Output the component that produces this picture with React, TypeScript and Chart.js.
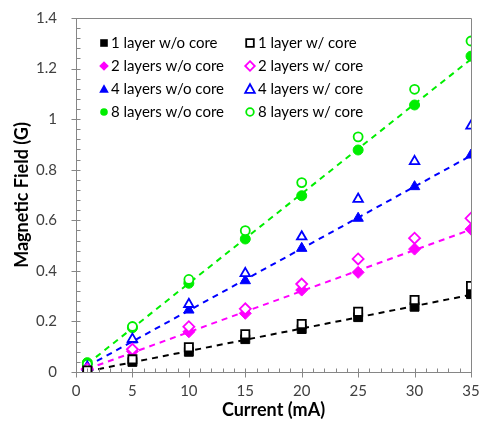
import React, { useEffect, useRef } from 'react';
import { Chart, registerables } from 'chart.js';

Chart.register(...registerables);

// ---- Data ----
const currents = [1, 5, 10, 15, 20, 25, 30, 35];
const layer1NoCore = [0.003, 0.04, 0.08, 0.13, 0.17, 0.217, 0.258, 0.308];
const layer1Core = [0.006, 0.05, 0.098, 0.149, 0.19, 0.238, 0.285, 0.34];
const layer2NoCore = [0.01, 0.082, 0.159, 0.232, 0.324, 0.394, 0.486, 0.565];
const layer2Core = [0.012, 0.09, 0.179, 0.25, 0.348, 0.447, 0.529, 0.608];
const layer4NoCore = [0.019, 0.127, 0.245, 0.361, 0.489, 0.608, 0.733, 0.858];
const layer4Core = [0.02, 0.13, 0.268, 0.39, 0.535, 0.684, 0.833, 0.973];
const layer8NoCore = [0.037, 0.175, 0.351, 0.526, 0.697, 0.878, 1.056, 1.249];
const layer8Core = [0.03, 0.18, 0.366, 0.559, 0.749, 0.93, 1.118, 1.309];

const labelsNoCore = ['1 layer w/o core', '2 layers w/o core', '4 layers w/o core', '8 layers w/o core'];
const labelsCore = ['1 layer w/ core', '2 layers w/ core', '4 layers w/ core', '8 layers w/ core'];
const seriesColors = ['#000000', '#ff00ff', '#0000ff', '#00ee00'];
const seriesStyles = ['rect', 'rectRot', 'triangle', 'circle'];
const seriesRadius = [6.3, 6, 6, 5];

const xAxisTitle = 'Current (mA)';
const yAxisTitle = 'Magnetic Field (G)';
const xMin = 0, xMax = 35, xStep = 5, xMinorStep = 1;
const yMin = 0, yMax = 1.4, yStep = 0.2, yMinorStep = 0.04;

const FONT = 'Lato, "Open Sans", sans-serif';

function linearFit(xs: number[], ys: number[]) {
  const n = xs.length;
  let sx = 0, sy = 0, sxx = 0, sxy = 0;
  for (let i = 0; i < n; i++) {
    sx += xs[i]; sy += ys[i]; sxx += xs[i] * xs[i]; sxy += xs[i] * ys[i];
  }
  const m = (n * sxy - sx * sy) / (n * sxx - sx * sx);
  const b = (sy - m * sx) / n;
  const x0 = xs[0], x1 = xs[n - 1];
  return [{ x: x0, y: m * x0 + b }, { x: x1, y: m * x1 + b }];
}

function toPoints(ys: number[]) {
  return currents.map((x, i) => ({ x, y: ys[i] }));
}

function drawMarker(ctx: CanvasRenderingContext2D, style: string, x: number, y: number, color: string, filled: boolean) {
  ctx.save();
  ctx.beginPath();
  if (style === 'rect') {
    const s = 3.8;
    ctx.rect(x - s, y - s, 2 * s, 2 * s);
  } else if (style === 'rectRot') {
    const s = 4.8;
    ctx.moveTo(x, y - s); ctx.lineTo(x + s, y); ctx.lineTo(x, y + s); ctx.lineTo(x - s, y); ctx.closePath();
  } else if (style === 'triangle') {
    const s = 4.8;
    ctx.moveTo(x, y - s); ctx.lineTo(x + s, y + s * 0.8); ctx.lineTo(x - s, y + s * 0.8); ctx.closePath();
  } else {
    ctx.arc(x, y, 3.8, 0, Math.PI * 2);
  }
  if (filled) {
    ctx.fillStyle = color;
    ctx.fill();
  } else {
    ctx.fillStyle = '#ffffff';
    ctx.fill();
    ctx.lineWidth = 1.8;
    ctx.strokeStyle = color;
    ctx.stroke();
  }
  ctx.restore();
}

const framePlugin = {
  id: 'frameAndTicks',
  afterDatasetsDraw(chart: any) {
    const { ctx, chartArea } = chart;
    const xs = chart.scales.x;
    const ys = chart.scales.y;
    ctx.save();
    ctx.strokeStyle = '#868686';
    ctx.lineWidth = 1;
    ctx.beginPath();
    const L = Math.round(chartArea.left) + 0.5;
    const R = Math.round(chartArea.right) + 0.5;
    const T = Math.round(chartArea.top) + 0.5;
    const B = Math.round(chartArea.bottom) + 0.5;
    ctx.rect(L, T, R - L, B - T);
    for (let v = yMin; v <= yMax + 1e-9; v += yMinorStep) {
      const py = Math.round(ys.getPixelForValue(v)) + 0.5;
      const major = Math.abs(v / yStep - Math.round(v / yStep)) < 1e-6;
      if (major) { ctx.moveTo(L - 5, py); ctx.lineTo(L + 4, py); }
      else { ctx.moveTo(L, py); ctx.lineTo(L + 4, py); }
    }
    for (let v = xMin; v <= xMax + 1e-9; v += xMinorStep) {
      const px = Math.round(xs.getPixelForValue(v)) + 0.5;
      const major = Math.abs(v / xStep - Math.round(v / xStep)) < 1e-6;
      if (major) { ctx.moveTo(px, B + 5); ctx.lineTo(px, B - 4); }
      else { ctx.moveTo(px, B); ctx.lineTo(px, B - 4); }
    }
    ctx.stroke();

    // legend
    ctx.font = `15px ${FONT}`;
    ctx.fillStyle = '#000000';
    ctx.textBaseline = 'middle';
    ctx.textAlign = 'left';
    const colMarker = [chartArea.left + 28, chartArea.left + 174];
    const colText = [chartArea.left + 35, chartArea.left + 182];
    for (let r = 0; r < 4; r++) {
      const y = chartArea.top + 25 + r * 23;
      drawMarker(ctx, seriesStyles[r], colMarker[0], y, seriesColors[r], true);
      ctx.fillText(labelsNoCore[r], colText[0], y);
      drawMarker(ctx, seriesStyles[r], colMarker[1], y, seriesColors[r], false);
      ctx.fillText(labelsCore[r], colText[1], y);
    }
    ctx.restore();
  },
};

export default function App() {
  const canvasRef = useRef<HTMLCanvasElement | null>(null);

  useEffect(() => {
    document.body.style.margin = '0';
    const noCore = [layer1NoCore, layer2NoCore, layer4NoCore, layer8NoCore];
    const core = [layer1Core, layer2Core, layer4Core, layer8Core];
    const datasets: any[] = [];
    for (let i = 0; i < 4; i++) {
      datasets.push({
        type: 'scatter',
        label: labelsCore[i],
        data: toPoints(core[i]),
        pointStyle: seriesStyles[i],
        pointRadius: seriesRadius[i] - 0.5,
        pointBackgroundColor: '#ffffff',
        pointBorderColor: seriesColors[i],
        pointBorderWidth: 1.8,
        showLine: false,
        order: 0,
      });
    }
    for (let i = 0; i < 4; i++) {
      datasets.push({
        type: 'scatter',
        label: labelsNoCore[i],
        data: toPoints(noCore[i]),
        pointStyle: seriesStyles[i],
        pointRadius: seriesRadius[i],
        pointBackgroundColor: seriesColors[i],
        pointBorderColor: seriesColors[i],
        pointBorderWidth: 1,
        showLine: false,
        order: 1,
      });
    }
    for (let i = 0; i < 4; i++) {
      datasets.push({
        type: 'line',
        label: 'trend ' + labelsNoCore[i],
        data: linearFit(currents, noCore[i]),
        borderColor: seriesColors[i],
        borderWidth: 2,
        borderDash: [6, 5],
        pointRadius: 0,
        fill: false,
        order: 2,
      });
    }

    const zeroPad = (scale: any) => {
      scale.paddingLeft = 0;
      scale.paddingRight = 0;
      scale.paddingTop = 0;
      scale.paddingBottom = 0;
    };

    const chart = new Chart(canvasRef.current as HTMLCanvasElement, {
      type: 'scatter',
      data: { datasets },
      plugins: [framePlugin],
      options: {
        animation: false,
        responsive: true,
        maintainAspectRatio: false,
        layout: { padding: { top: 18, right: 9, left: 0, bottom: 0 } },
        plugins: {
          legend: { display: false },
          tooltip: { enabled: false },
        },
        scales: {
          x: {
            type: 'linear',
            min: xMin,
            max: xMax,
            grid: { display: false, drawTicks: false },
            border: { display: false },
            ticks: {
              stepSize: xStep,
              padding: 10,
              color: '#404040',
              font: { family: FONT, size: 15 },
              maxRotation: 0,
            },
            title: {
              display: true,
              text: xAxisTitle,
              color: '#000000',
              font: { family: FONT, size: 18, weight: 'bold' },
              padding: { top: 0, bottom: 8 },
            },
            afterFit: (scale: any) => { scale.height = 57; zeroPad(scale); },
          },
          y: {
            type: 'linear',
            min: yMin,
            max: yMax,
            grid: { display: false, drawTicks: false },
            border: { display: false },
            ticks: {
              stepSize: yStep,
              padding: 19,
              color: '#404040',
              font: { family: FONT, size: 15 },
              callback: (v: any) => String(Math.round(Number(v) * 10) / 10),
            },
            title: {
              display: true,
              text: yAxisTitle,
              color: '#000000',
              font: { family: FONT, size: 18, weight: 'bold' },
              padding: { top: 11, bottom: 0 },
            },
            afterFit: (scale: any) => { scale.width = 76; zeroPad(scale); },
          },
        },
      },
    });
    return () => chart.destroy();
  }, []);

  return (
    <div style={{ position: 'relative', width: 480, height: 429 }}>
      <canvas ref={canvasRef} />
    </div>
  );
}
